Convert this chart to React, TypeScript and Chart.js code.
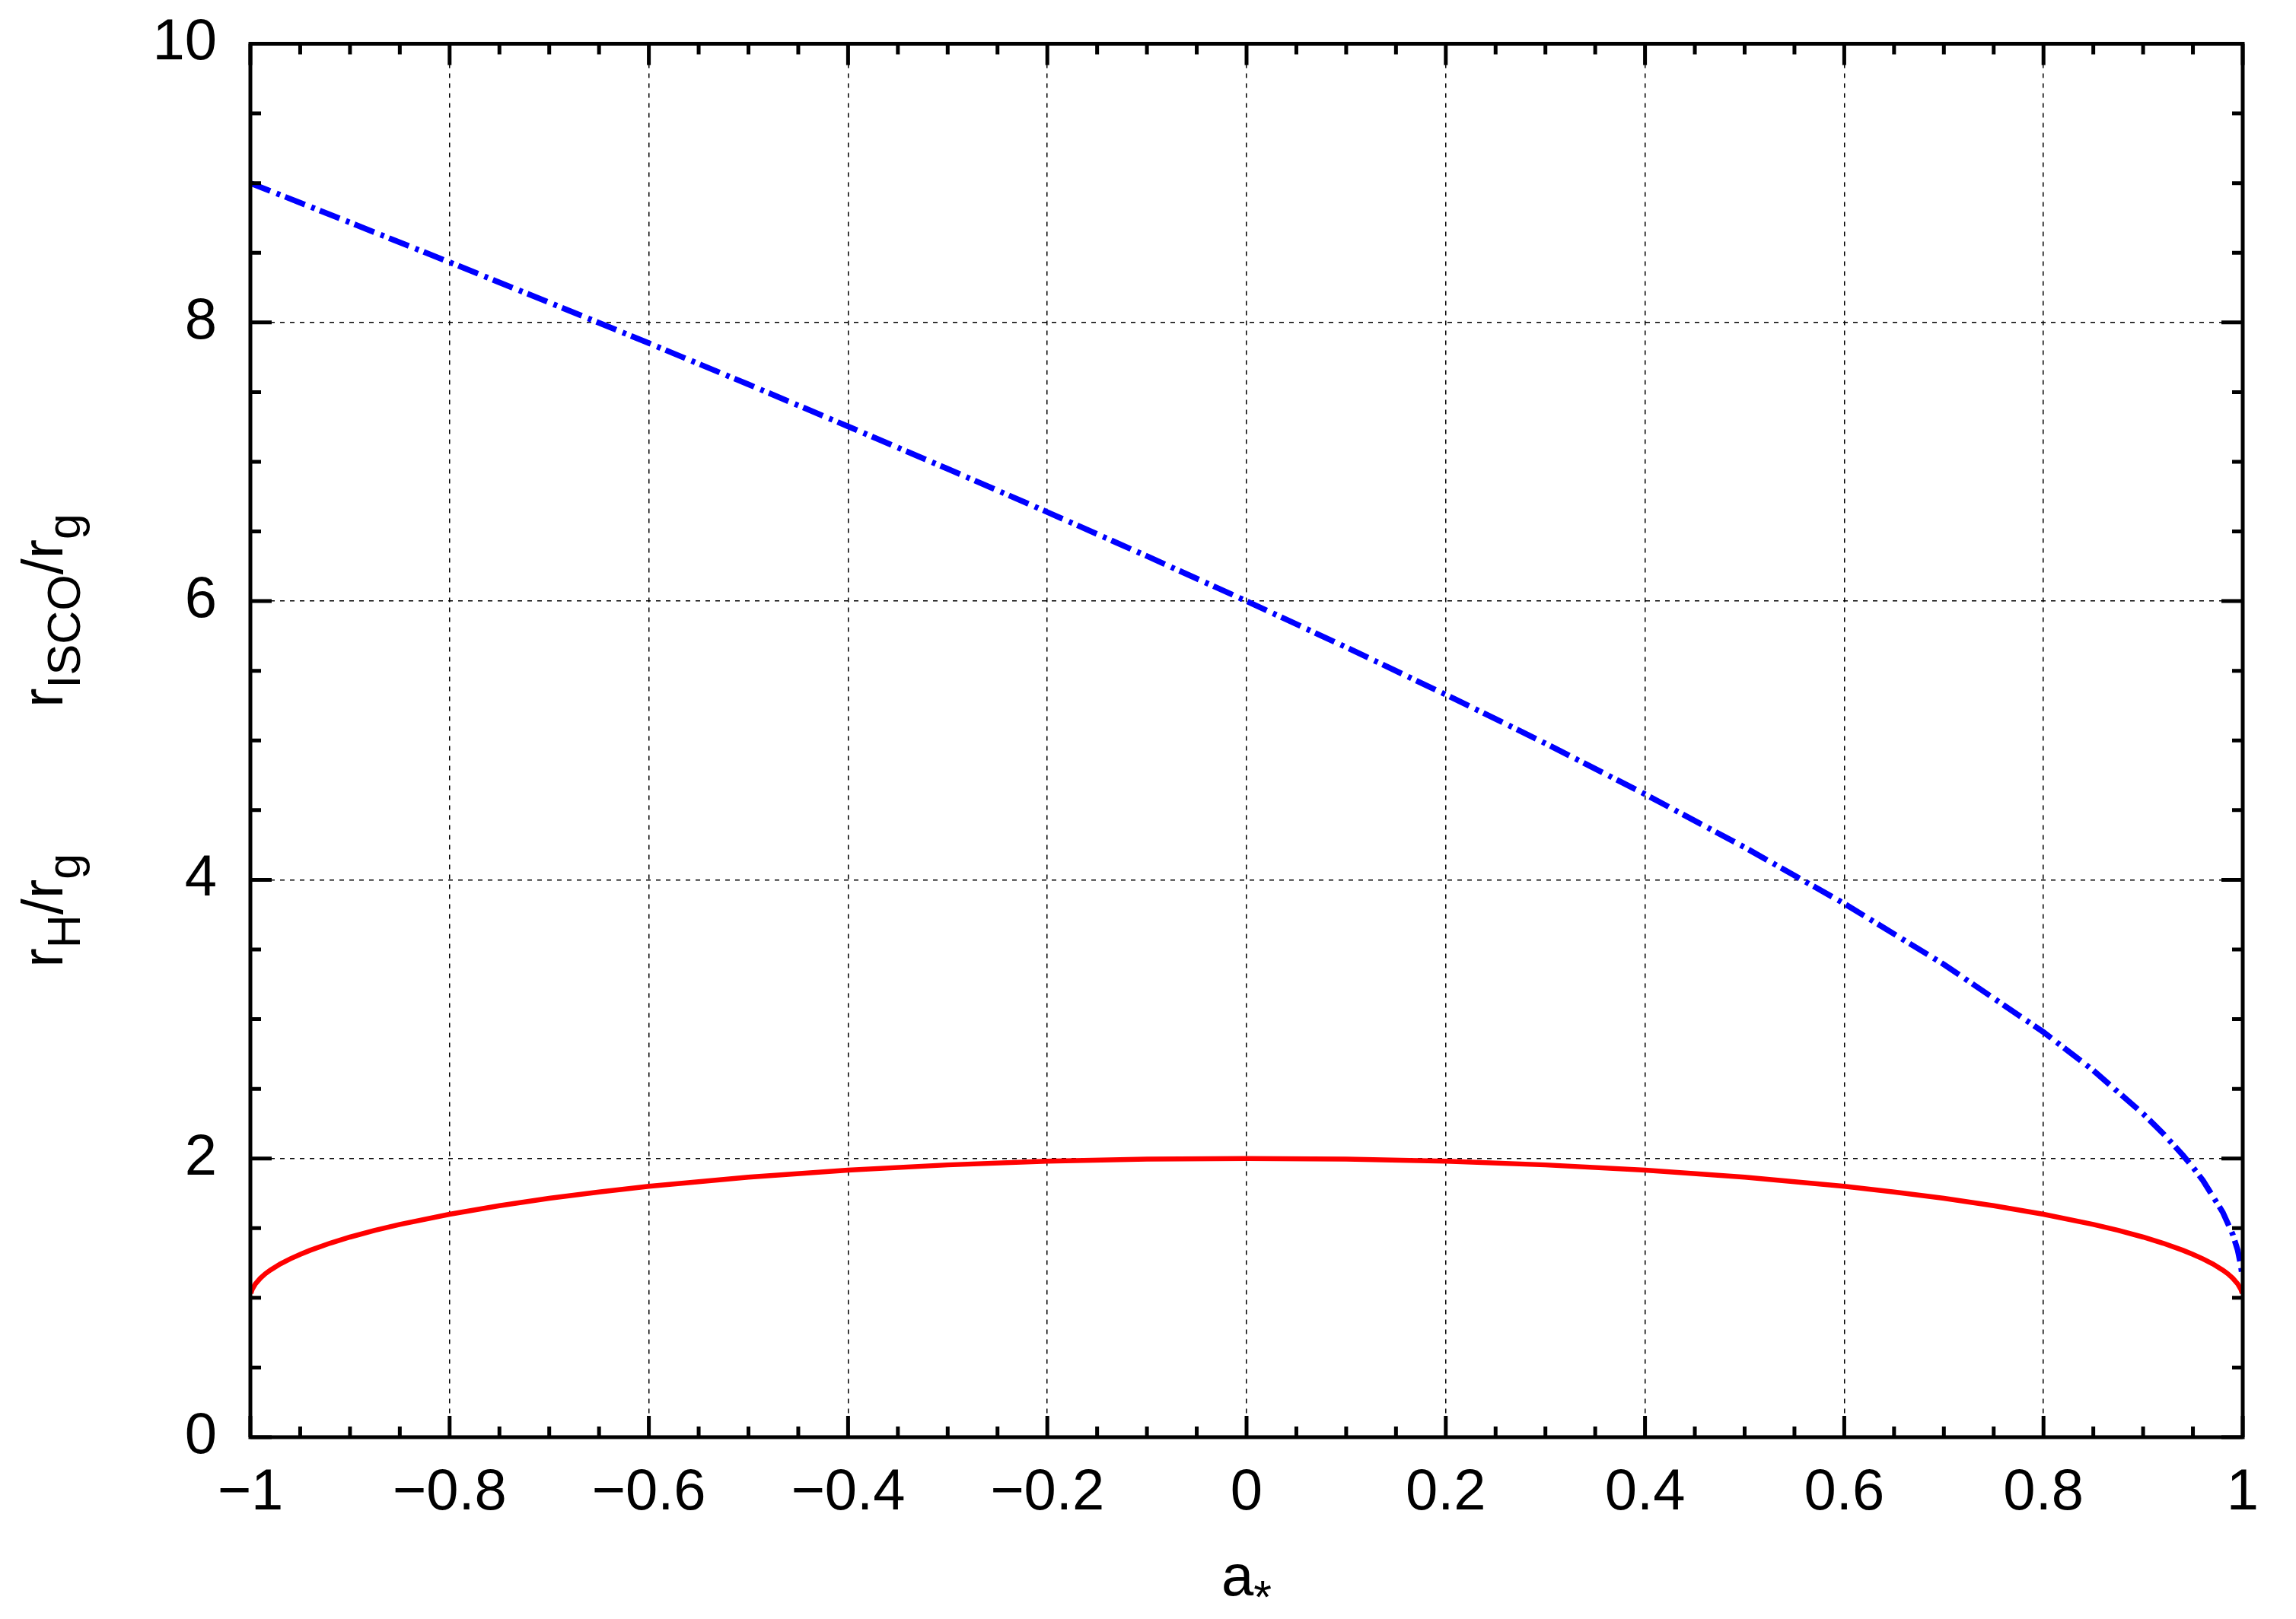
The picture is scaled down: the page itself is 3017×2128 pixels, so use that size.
import React, { useEffect, useRef } from "react";
import { Chart, registerables } from "chart.js";

Chart.register(...registerables);

// ---- data ----
const horizonSpin = [
  -0.9995, -0.998, -0.995, -0.99, -0.985, -0.98, -0.97, -0.96, -0.95, -0.94, -0.92, -0.9, -0.875, -0.85, -0.8, -0.75, -0.7,
  -0.65, -0.6, -0.5, -0.4, -0.3, -0.2, -0.1, 0, 0.1, 0.2, 0.3, 0.4, 0.5, 0.6, 0.65, 0.7, 0.75, 0.8, 0.85, 0.875, 0.9, 0.92,
  0.94, 0.95, 0.96, 0.97, 0.98, 0.985, 0.99, 0.995, 0.998, 0.9995,
];
const horizonRadius = [
  1.032, 1.063, 1.1, 1.141, 1.173, 1.199, 1.243, 1.28, 1.312, 1.341, 1.392, 1.436, 1.484, 1.527, 1.6, 1.661, 1.714,
  1.76, 1.8, 1.866, 1.917, 1.954, 1.98, 1.995, 2.0, 1.995, 1.98, 1.954, 1.917, 1.866, 1.8, 1.76, 1.714, 1.661, 1.6, 1.527,
  1.484, 1.436, 1.392, 1.341, 1.312, 1.28, 1.243, 1.199, 1.173, 1.141, 1.1, 1.063, 1.032,
];
const iscoSpin = [
  -1, -0.95, -0.9, -0.8, -0.7, -0.6, -0.5, -0.4, -0.3, -0.2, -0.1, 0, 0.1, 0.2, 0.3, 0.4, 0.5, 0.6, 0.7, 0.8, 0.85, 0.9,
  0.92, 0.94, 0.95, 0.96, 0.98, 0.99, 0.995, 0.998, 0.999,
];
const iscoRadius = [
  9.0, 8.859, 8.717, 8.432, 8.143, 7.851, 7.555, 7.254, 6.949, 6.639, 6.323, 6.0, 5.669, 5.329, 4.979, 4.614, 4.233, 3.829,
  3.393, 2.907, 2.632, 2.321, 2.18, 2.023, 1.937, 1.843, 1.614, 1.455, 1.341, 1.237, 1.182,
];

const xTickValues = [-1, -0.8, -0.6, -0.4, -0.2, 0, 0.2, 0.4, 0.6, 0.8, 1];
const xTickLabels = ["\u22121", "\u22120.8", "\u22120.6", "\u22120.4", "\u22120.2", "0", "0.2", "0.4", "0.6", "0.8", "1"];
const yTickValues = [0, 2, 4, 6, 8, 10];
const yTickLabels = ["0", "2", "4", "6", "8", "10"];
const xMinorStep = 0.05;
const yMinorStep = 0.5;

const FONT = "'Liberation Sans', Arial, Helvetica, sans-serif";
const MAIN = 76;
const SUB = 61;
const SUB_SHIFT = 23;

type Part = { t: string; sub?: boolean } | { gap: number };

function partWidth(ctx: CanvasRenderingContext2D, p: Part) {
  if ("gap" in p) return p.gap;
  ctx.font = `${p.sub ? SUB : MAIN}px ${FONT}`;
  return ctx.measureText(p.t).width;
}

function drawRich(ctx: CanvasRenderingContext2D, parts: Part[], startX: number) {
  let x = startX;
  for (const p of parts) {
    const w = partWidth(ctx, p);
    if (!("gap" in p)) {
      ctx.font = `${p.sub ? SUB : MAIN}px ${FONT}`;
      ctx.fillText(p.t, x, p.sub ? SUB_SHIFT : 0);
    }
    x += w;
  }
}

const framePlugin = {
  id: "gnuFrame",
  afterDatasetsDraw(chart: any) {
    const { ctx, chartArea } = chart;
    const xs = chart.scales.x;
    const ys = chart.scales.y;
    const { left, right, top, bottom } = chartArea;
    ctx.save();
    ctx.strokeStyle = "#000";
    ctx.lineWidth = 5;
    ctx.lineCap = "butt";
    ctx.setLineDash([]);
    const isMajor = (v: number, step: number) => Math.abs(v / step - Math.round(v / step)) < 1e-6;
    for (let i = 0; i <= Math.round(2 / xMinorStep); i++) {
      const v = -1 + i * xMinorStep;
      const px = xs.getPixelForValue(v);
      const len = isMajor(v, 0.2) ? 28 : 14;
      ctx.beginPath();
      ctx.moveTo(px, bottom);
      ctx.lineTo(px, bottom - len);
      ctx.moveTo(px, top);
      ctx.lineTo(px, top + len);
      ctx.stroke();
    }
    for (let i = 0; i <= Math.round(10 / yMinorStep); i++) {
      const v = i * yMinorStep;
      const py = ys.getPixelForValue(v);
      const len = isMajor(v, 2) ? 28 : 14;
      ctx.beginPath();
      ctx.moveTo(left, py);
      ctx.lineTo(left + len, py);
      ctx.moveTo(right, py);
      ctx.lineTo(right - len, py);
      ctx.stroke();
    }
    ctx.strokeRect(left, top, right - left, bottom - top);
    ctx.restore();
  },
  afterDraw(chart: any) {
    const { ctx, chartArea } = chart;
    ctx.save();
    ctx.fillStyle = "#000";
    ctx.textBaseline = "alphabetic";
    ctx.textAlign = "left";
    const xParts: Part[] = [{ t: "a" }, { t: "*", sub: true }];
    const xw = xParts.reduce((s, p) => s + partWidth(ctx, p), 0);
    const cx = (chartArea.left + chartArea.right) / 2;
    ctx.save();
    ctx.translate(cx, 2097);
    drawRich(ctx, xParts, -xw / 2);
    ctx.restore();
    const yParts: Part[] = [
      { t: "r" }, { t: "H", sub: true }, { t: "/" }, { t: "r" }, { t: "g", sub: true },
      { gap: 192 },
      { t: "r" }, { t: "ISCO", sub: true }, { t: "/" }, { t: "r" }, { t: "g", sub: true },
    ];
    const yw = yParts.reduce((s, p) => s + partWidth(ctx, p), 0);
    const cy = (chartArea.top + chartArea.bottom) / 2;
    ctx.save();
    ctx.translate(82, cy);
    ctx.rotate(-Math.PI / 2);
    drawRich(ctx, yParts, -yw / 2);
    ctx.restore();
    ctx.restore();
  },
};

export default function App() {
  const ref = useRef<HTMLCanvasElement | null>(null);
  useEffect(() => {
    document.body.style.margin = "0";
    const canvas = ref.current;
    if (!canvas) return;
    const chart = new Chart(canvas, {
      type: "scatter",
      data: {
        datasets: [
          {
            label: "r_H",
            data: horizonSpin.map((x, i) => ({ x, y: horizonRadius[i] })),
            showLine: true,
            borderColor: "#ff0000",
            borderWidth: 6.5,
            pointRadius: 0,
            tension: 0,
            fill: false,
          },
          {
            label: "r_ISCO",
            data: iscoSpin.map((x, i) => ({ x, y: iscoRadius[i] })),
            showLine: true,
            borderColor: "#0000ff",
            borderWidth: 7.5,
            borderDash: [28, 9, 5, 7],
            borderCapStyle: "butt",
            pointRadius: 0,
            tension: 0,
            fill: false,
          },
        ],
      },
      options: {
        responsive: false,
        animation: false,
        devicePixelRatio: 1,
        layout: { padding: { top: 57.5, right: 70, left: 0, bottom: 0 } },
        plugins: { legend: { display: false }, tooltip: { enabled: false } },
        scales: {
          x: {
            type: "linear",
            min: -1,
            max: 1,
            afterBuildTicks: (s: any) => {
              s.ticks = xTickValues.map((v) => ({ value: v }));
            },
            afterFit: (s: any) => {
              s.height = 239;
              s.paddingLeft = 0;
              s.paddingRight = 0;
            },
            ticks: {
              autoSkip: false,
              maxRotation: 0,
              padding: 28,
              color: "#000",
              font: { family: FONT, size: MAIN },
              callback: (_v: any, i: number) => xTickLabels[i],
            },
            grid: { color: "#000", lineWidth: 1.5, drawTicks: false },
            border: { display: false, dash: [6, 7] },
          },
          y: {
            type: "linear",
            min: 0,
            max: 10,
            afterBuildTicks: (s: any) => {
              s.ticks = yTickValues.map((v) => ({ value: v }));
            },
            afterFit: (s: any) => {
              s.width = 329;
              s.paddingTop = 0;
              s.paddingBottom = 0;
            },
            ticks: {
              autoSkip: false,
              padding: 44,
              color: "#000",
              font: { family: FONT, size: MAIN, lineHeight: 0.1 },
              callback: (_v: any, i: number) => yTickLabels[i],
            },
            grid: { color: "#000", lineWidth: 1.5, drawTicks: false },
            border: { display: false, dash: [6, 7] },
          },
        },
      },
      plugins: [framePlugin],
    } as any);
    return () => chart.destroy();
  }, []);
  return <canvas ref={ref} width={3017} height={2128} style={{ display: "block" }} />;
}
